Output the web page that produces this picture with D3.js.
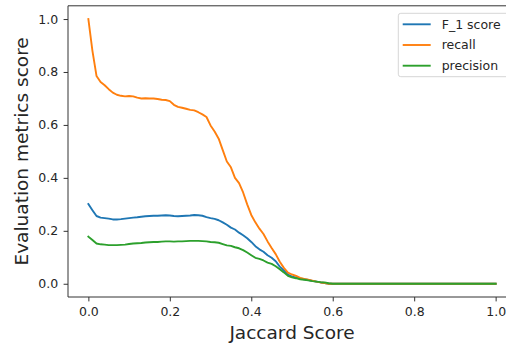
<!DOCTYPE html>
<html>
<head>
<meta charset="utf-8">
<script src="https://cdn.jsdelivr.net/npm/d3@7"></script>
<style>
  html, body { margin: 0; padding: 0; background: #fff; }
  svg { display: block; font-family: "DejaVu Sans", sans-serif; }
</style>
</head>
<body>
<svg id="chart" width="506" height="346"></svg>
<script>
// Jaccard score thresholds (0.00 .. 1.00, step 0.01)
const thresholds = [
  0.00,0.01,0.02,0.03,0.04,0.05,0.06,0.07,0.08,0.09,
  0.10,0.11,0.12,0.13,0.14,0.15,0.16,0.17,0.18,0.19,
  0.20,0.21,0.22,0.23,0.24,0.25,0.26,0.27,0.28,0.29,
  0.30,0.31,0.32,0.33,0.34,0.35,0.36,0.37,0.38,0.39,
  0.40,0.41,0.42,0.43,0.44,0.45,0.46,0.47,0.48,0.49,
  0.50,0.51,0.52,0.53,0.54,0.55,0.56,0.57,0.58,0.59,
  0.60,0.61,0.62,0.63,0.64,0.65,0.66,0.67,0.68,0.69,
  0.70,0.71,0.72,0.73,0.74,0.75,0.76,0.77,0.78,0.79,
  0.80,0.81,0.82,0.83,0.84,0.85,0.86,0.87,0.88,0.89,
  0.90,0.91,0.92,0.93,0.94,0.95,0.96,0.97,0.98,0.99,
  1.00
];

const f1Score = [
  0.301,0.278,0.256,0.250,0.248,0.246,0.243,0.243,0.244,0.246,
  0.248,0.250,0.251,0.253,0.255,0.256,0.257,0.257,0.258,0.259,
  0.258,0.256,0.255,0.256,0.257,0.258,0.260,0.259,0.257,0.252,
  0.248,0.245,0.240,0.232,0.223,0.212,0.205,0.193,0.183,0.172,
  0.158,0.142,0.130,0.121,0.108,0.098,0.085,0.065,0.050,0.035,
  0.027,0.024,0.020,0.017,0.014,0.011,0.008,0.005,0.003,0.000,
  0,0,0,0,0,0,0,0,0,0,
  0,0,0,0,0,0,0,0,0,0,
  0,0,0,0,0,0,0,0,0,0,
  0,0,0,0,0,0,0,0,0,0,
  0
];

const recall = [
  1.000,0.880,0.785,0.762,0.750,0.735,0.722,0.714,0.710,0.708,
  0.709,0.708,0.703,0.700,0.701,0.700,0.700,0.698,0.695,0.694,
  0.690,0.676,0.668,0.665,0.661,0.657,0.655,0.648,0.640,0.630,
  0.598,0.575,0.548,0.505,0.462,0.440,0.400,0.380,0.345,0.300,
  0.260,0.232,0.208,0.188,0.160,0.135,0.112,0.083,0.060,0.042,
  0.035,0.030,0.022,0.018,0.015,0.012,0.008,0.005,0.003,0.000,
  0,0,0,0,0,0,0,0,0,0,
  0,0,0,0,0,0,0,0,0,0,
  0,0,0,0,0,0,0,0,0,0,
  0,0,0,0,0,0,0,0,0,0,
  0
];

const precision = [
  0.178,0.165,0.152,0.149,0.148,0.146,0.146,0.146,0.147,0.148,
  0.150,0.152,0.153,0.154,0.156,0.157,0.158,0.158,0.159,0.160,
  0.160,0.159,0.160,0.160,0.161,0.162,0.162,0.162,0.161,0.160,
  0.158,0.157,0.155,0.150,0.145,0.143,0.138,0.134,0.127,0.118,
  0.108,0.098,0.094,0.088,0.080,0.075,0.066,0.055,0.043,0.030,
  0.024,0.021,0.017,0.015,0.013,0.010,0.008,0.006,0.005,0.002,
  0,0,0,0,0,0,0,0,0,0,
  0,0,0,0,0,0,0,0,0,0,
  0,0,0,0,0,0,0,0,0,0,
  0,0,0,0,0,0,0,0,0,0,
  0
];

const seriesNames = ["F_1 score", "recall", "precision"];
const seriesColors = ["#1f77b4", "#ff7f0e", "#2ca02c"];
const xTicks = [0.0, 0.2, 0.4, 0.6, 0.8, 1.0];
const yTicks = [0.0, 0.2, 0.4, 0.6, 0.8, 1.0];

const series = [f1Score, recall, precision].map((vals, i) => ({
  name: seriesNames[i],
  color: seriesColors[i],
  points: thresholds.map((t, j) => [t, vals[j]])
}));

const svg = d3.select("#chart");

// plot area (the right edge runs past the canvas)
const plotLeft = 68, plotRight = 516, plotTop = 5.8, plotBottom = 297;

const x = d3.scaleLinear().domain([-0.05, 1.05]).range([plotLeft, plotRight]);
const y = d3.scaleLinear().domain([-0.05, 1.05]).range([plotBottom, plotTop]);

svg.append("defs").append("clipPath").attr("id", "plotClip")
  .append("rect").attr("x", plotLeft).attr("y", plotTop)
  .attr("width", plotRight - plotLeft).attr("height", plotBottom - plotTop);

// lines
const line = d3.line().x(d => x(d[0])).y(d => y(d[1]));
const plot = svg.append("g").attr("clip-path", "url(#plotClip)");
series.forEach(s => {
  plot.append("path")
    .datum(s.points)
    .attr("d", line)
    .attr("fill", "none")
    .attr("stroke", s.color)
    .attr("stroke-width", 1.9)
    .attr("stroke-linejoin", "round")
    .attr("stroke-linecap", "square");
});

// axes
const fmt = d3.format(".1f");
const xAxis = svg.append("g")
  .attr("transform", `translate(0,${plotBottom})`)
  .call(d3.axisBottom(x).tickValues(xTicks).tickFormat(fmt).tickSize(4.4).tickPadding(5.5).tickSizeOuter(0));
const yAxis = svg.append("g")
  .attr("transform", `translate(${plotLeft},0)`)
  .call(d3.axisLeft(y).tickValues(yTicks).tickFormat(fmt).tickSize(4.4).tickPadding(5.5).tickSizeOuter(0));

[xAxis, yAxis].forEach(g => {
  g.select(".domain").remove();
  g.selectAll(".tick line").attr("stroke", "#333").attr("stroke-width", 1);
  g.selectAll(".tick text").attr("fill", "#262626")
    .style("font-family", "'DejaVu Sans', sans-serif").style("font-size", "12.5px");
});

// spines: left, bottom, top (right one lies outside the canvas)
const spine = svg.append("g").attr("stroke", "#333").attr("stroke-width", 1).attr("fill", "none");
spine.append("line").attr("x1", plotLeft).attr("x2", plotLeft).attr("y1", plotTop).attr("y2", plotBottom);
spine.append("line").attr("x1", plotLeft).attr("x2", plotRight).attr("y1", plotBottom).attr("y2", plotBottom);
spine.append("line").attr("x1", plotLeft).attr("x2", plotRight).attr("y1", plotTop).attr("y2", plotTop);
spine.append("line").attr("x1", plotRight).attr("x2", plotRight).attr("y1", plotTop).attr("y2", plotBottom);

// axis titles
svg.append("text")
  .attr("x", (plotLeft + plotRight) / 2).attr("y", 339)
  .attr("text-anchor", "middle")
  .attr("fill", "#262626")
  .style("font-size", "18.5px")
  .text("Jaccard Score");

svg.append("text")
  .attr("transform", `translate(27.5,${(plotTop + plotBottom) / 2}) rotate(-90)`)
  .attr("text-anchor", "middle")
  .attr("fill", "#262626")
  .style("font-size", "18.5px")
  .text("Evaluation metrics score");

// legend
const legend = svg.append("g");
legend.append("rect")
  .attr("x", 398.3).attr("y", 13.3)
  .attr("width", 112).attr("height", 63.4)
  .attr("rx", 2.5)
  .attr("fill", "#fff").attr("fill-opacity", 0.8)
  .attr("stroke", "#d6d6d6").attr("stroke-width", 1);

series.forEach((s, i) => {
  const ly = 24.3 + i * 20.7;
  legend.append("line")
    .attr("x1", 402.7).attr("x2", 430.7)
    .attr("y1", ly).attr("y2", ly)
    .attr("stroke", s.color).attr("stroke-width", 1.9);
  legend.append("text")
    .attr("x", 441.7).attr("y", ly)
    .attr("dy", "0.35em")
    .attr("fill", "#262626")
    .style("font-size", "12.5px")
    .text(s.name);
});
</script>
</body>
</html>
